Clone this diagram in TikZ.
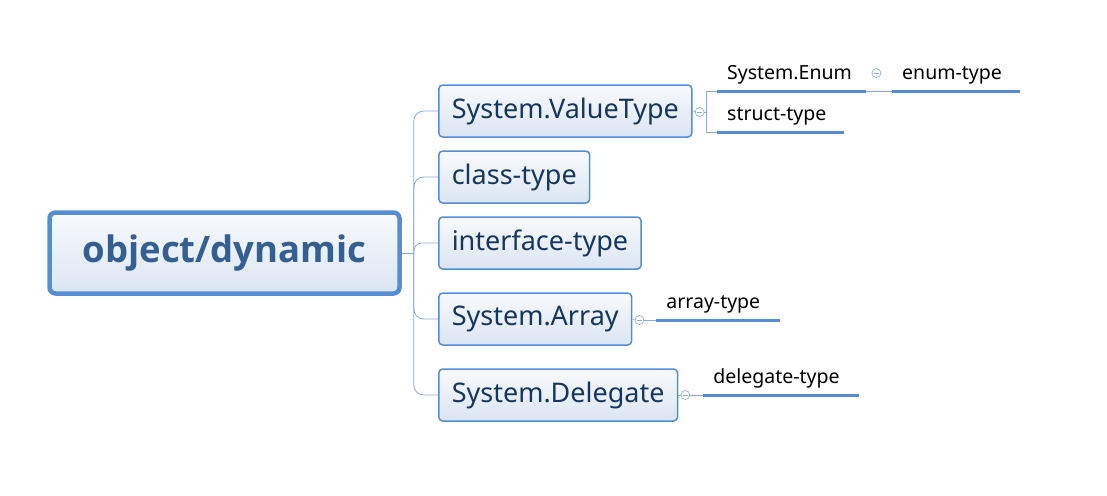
\documentclass[tikz,border=0pt]{standalone}
\usepackage{fontspec}
\setmainfont{Noto Sans}
\newfontfamily\rootfont{Open Sans}
\usetikzlibrary{calc,positioning}
\definecolor{boxline}{RGB}{86,141,210}
\definecolor{boxtop}{RGB}{248,250,253}
\definecolor{boxbot}{RGB}{218,229,242}
\definecolor{boxtext}{RGB}{23,54,93}
\definecolor{roottext}{RGB}{54,95,145}
\definecolor{linkline}{RGB}{140,170,215}

\begin{document}
\begin{tikzpicture}[x=1pt, y=-1pt,
	rootnode/.style={draw=boxline, line width=4.5pt, rounded corners=6pt, top color=boxtop, bottom color=boxbot, minimum width=350, minimum height=81, font=\rootfont\bfseries\fontsize{36.5}{40}\selectfont, text=roottext},
	topicnode/.style={draw=boxline, line width=1.5pt, rounded corners=4pt, top color=boxtop, bottom color=boxbot, minimum height=52, inner xsep=13pt, anchor=west, font=\fontsize{27}{30}\selectfont, text=boxtext},
	subnode/.style={anchor=south west, inner xsep=10pt, inner ysep=7pt, align=left, text height=14pt, text depth=4pt, font=\fontsize{19.5}{22}\selectfont},
	foldnode/.style={circle, draw=linkline, fill=white, minimum size=9pt, inner sep=0pt, line width=0.6pt},
	link/.style={draw=linkline, line width=0.8pt},
	uline/.style={draw=boxline, line width=3pt}]
			\useasboundingbox (0,0) rectangle (1107,495);

			\node[rootnode] (root) at (224.5,253) {object/dynamic};
			\coordinate (trunk) at ($(root.east)+(12,0)$);

			\node[topicnode] (valuetype) at (438,111) {System.ValueType};
			\node[topicnode] (classtype) at (438,177) {class-type};
			\node[topicnode] (ifacetype) at (438,243) {interface-type};
			\node[topicnode] (sysarray) at (438,319) {System.Array};
			\node[topicnode] (sysdelegate) at (438,395) {System.Delegate};

			\node[foldnode] (vtfold) at ($(valuetype.east)+(7,1)$) {};
			\node[foldnode] (arrayfold) at ($(sysarray.east)+(7,1)$) {};
			\node[foldnode] (delegatefold) at ($(sysdelegate.east)+(7,0)$) {};
			\coordinate (vtjoin) at ($(vtfold.east)+(2,0)$);

			\node[subnode, text width=129] (sysenum) at (717,91) {System.Enum};
			\node[subnode, text width=107] (structtype) at (717,132) {struct-type};
			\node[foldnode] (enumfold) at ($(sysenum.south east)+(10,-18)$) {};
			\node[subnode, text width=108] (enumtype) at (892,91) {enum-type};
			\node[subnode, text width=103] (arraytype) at ($(arrayfold.east)+(12,0)$) {array-type};
			\node[subnode, text width=135] (delegatetype) at ($(delegatefold.east)+(13,0)$) {delegate-type};

			% trunk
			\draw[link] (root.east) -- (trunk);
			\draw[link, rounded corners=10pt] (trunk) |- (valuetype.west);
			\draw[link, rounded corners=10pt] (trunk) |- (classtype.west);
			\draw[link, rounded corners=8pt] (trunk) |- (ifacetype.west);
			\draw[link, rounded corners=10pt] (trunk) |- (sysarray.west);
			\draw[link, rounded corners=10pt] (trunk) |- (sysdelegate.west);

			% System.ValueType
			\draw[link] (valuetype.east) -- (vtfold);
			\draw[link] (vtfold.east) -- (vtjoin);
			\draw[link] (vtjoin) |- (sysenum.south west);
			\draw[link] (vtjoin) |- (structtype.south west);
			\draw[link] (sysenum.south east) -- (enumtype.south west);

			\draw[link] (sysarray.east) -- (arrayfold);
			\draw[link] (arrayfold.east) -- (arraytype.south west);
			\draw[link] (sysdelegate.east) -- (delegatefold);
			\draw[link] (delegatefold.east) -- (delegatetype.south west);

			% underlines
			\draw[uline] (sysenum.south west) -- (sysenum.south east);
			\draw[uline] (structtype.south west) -- (structtype.south east);
			\draw[uline] (enumtype.south west) -- (enumtype.south east);
			\draw[uline] (arraytype.south west) -- (arraytype.south east);
			\draw[uline] (delegatetype.south west) -- (delegatetype.south east);

			% fold marks
			\foreach \f in {vtfold,enumfold,arrayfold,delegatefold}
				\draw[linkline, line width=0.6pt] ($(\f.center)+(-2.5,0)$) -- ($(\f.center)+(2.5,0)$);

\end{tikzpicture}
\end{document}
